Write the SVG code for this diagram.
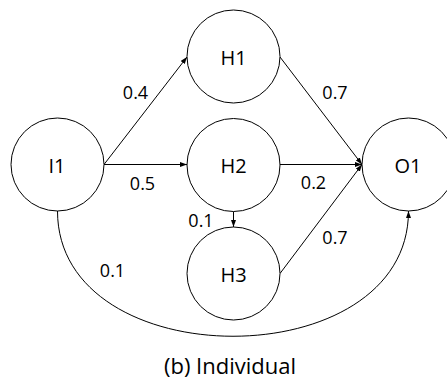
<svg xmlns="http://www.w3.org/2000/svg" width="447" height="381" viewBox="0 0 447 381">
  <style>
    .node circle { fill: #ffffff; stroke: #000000; stroke-width: 1; }
    .node text { font-family: "Open Sans", "Noto Sans", sans-serif; font-size: 20px; text-anchor: middle; fill: #000000; }
    .edge { fill: none; stroke: #000000; stroke-width: 1; marker-end: url(#arrow); }
    .wt { font-family: "Open Sans", "Noto Sans", sans-serif; font-size: 18px; text-anchor: middle; fill: #000000; }
    .caption { font-family: "Open Sans", "Noto Sans", sans-serif; font-size: 22px; text-anchor: middle; fill: #000000; }
  </style>
  <defs>
    <marker id="arrow" markerWidth="7" markerHeight="5" refX="7" refY="2.5" orient="auto" markerUnits="userSpaceOnUse">
      <path d="M0,0 L7,2.5 L0,5 z" fill="#000000"/>
    </marker>
  </defs>

  <g id="connectors">
    <line class="edge" x1="104" y1="164.5" x2="187" y2="57"/>
    <line class="edge" x1="104" y1="164.5" x2="187" y2="164.5"/>
    <line class="edge" x1="280" y1="57" x2="362" y2="164.5"/>
    <line class="edge" x1="280" y1="164.5" x2="362" y2="164.5"/>
    <line class="edge" x1="280" y1="273.5" x2="362" y2="164.5"/>
    <line class="edge" x1="233.5" y1="211.5" x2="233.5" y2="227"/>
    <path class="edge" d="M57.5,211 C57.5,378 408.5,378 408.5,211"/>
    <text class="wt" x="135.5" y="99">0.4</text>
    <text class="wt" x="142.5" y="190">0.5</text>
    <text class="wt" x="335" y="99">0.7</text>
    <text class="wt" x="313.5" y="189">0.2</text>
    <text class="wt" x="201" y="227">0.1</text>
    <text class="wt" x="112.5" y="277">0.1</text>
    <text class="wt" x="335" y="244">0.7</text>
  </g>

  <g id="I1" class="node">
    <circle cx="57.5" cy="164.5" r="46.5"/>
    <text x="57" y="172.5">I1</text>
  </g>
  <g id="H1" class="node">
    <circle cx="233.5" cy="56.5" r="46.5"/>
    <text x="233.5" y="64.5">H1</text>
  </g>
  <g id="H2" class="node">
    <circle cx="233.5" cy="165" r="46.5"/>
    <text x="233.5" y="173">H2</text>
  </g>
  <g id="H3" class="node">
    <circle cx="233.5" cy="273.5" r="46.5"/>
    <text x="233.5" y="281.5">H3</text>
  </g>
  <g id="O1" class="node">
    <circle cx="408.5" cy="164.5" r="46.5"/>
    <text x="408" y="172.5">O1</text>
  </g>

  <text class="caption" x="230" y="374">(b) Individual</text>
</svg>
